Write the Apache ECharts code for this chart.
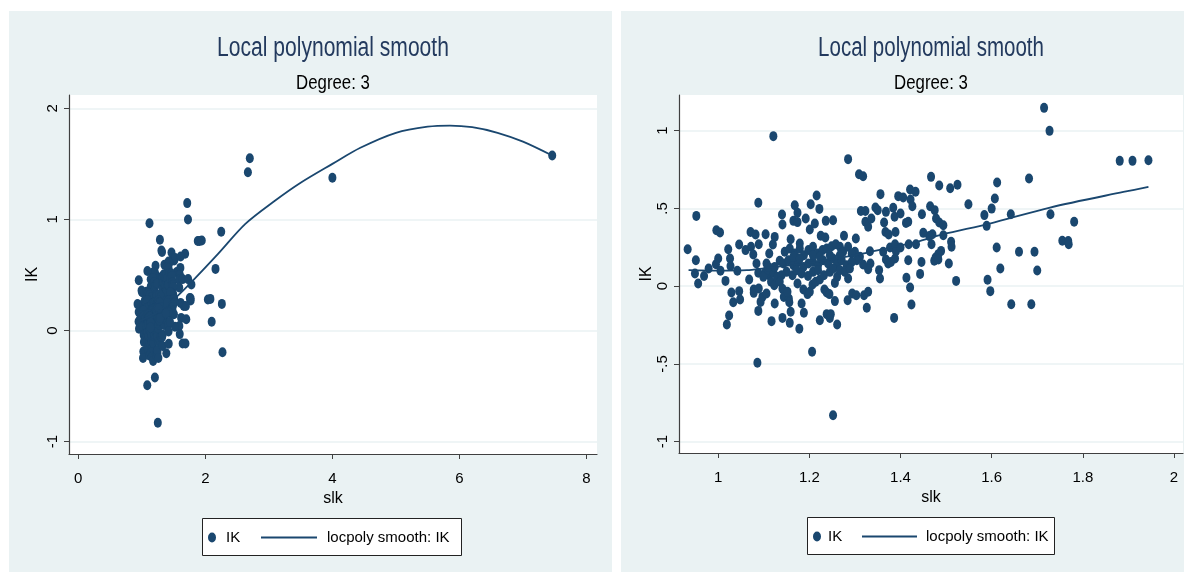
<!DOCTYPE html>
<html>
<head>
<meta charset="utf-8">
<script src="https://cdn.jsdelivr.net/npm/echarts@6/dist/echarts.min.js"></script>
<style>
html,body{margin:0;padding:0;background:#fff;}
#c{width:1184px;height:575px;}
</style>
</head>
<body>
<div id="c"></div>
<script>
// ---- Data (slk, IK) ----
const slk = [
1.121,1.285,1.309,1.318,1.356,1.395,1.216,1.203,1.222,1.168,1.088,0.952,1.140,1.141,1.174,1.165,1.174,1.192,1.201,1.212,
1.236,1.252,1.313,1.323,1.323,1.329,1.336,1.345,1.350,1.368,1.364,1.367,1.374,1.384,1.387,1.389,0.996,1.004,1.071,1.082,
1.104,1.124,1.120,1.159,1.179,1.225,1.235,1.276,1.302,0.933,1.022,1.046,1.060,1.072,1.089,1.077,1.112,0.951,1.000,1.026,
0.979,0.995,1.005,1.027,1.042,0.949,0.969,0.956,1.016,1.068,1.084,1.088,1.135,1.029,1.046,1.048,1.033,1.024,1.019,1.078,
1.078,1.089,1.097,1.093,1.088,1.117,1.124,1.106,1.111,1.104,1.116,1.121,1.123,1.141,1.144,1.155,1.152,1.156,1.159,1.141,
1.157,1.178,1.188,1.183,1.174,1.187,1.196,1.201,1.197,1.207,1.214,1.223,1.223,1.233,1.238,1.244,1.238,1.245,1.247,1.256,
1.261,1.206,1.252,1.086,1.284,1.294,1.303,1.320,1.329,1.326,1.386,1.256,1.261,1.285,1.355,1.353,1.334,1.329,1.318,1.311,
1.304,1.300,1.333,1.362,1.368,1.373,1.377,1.388,1.388,1.390,
1.146,1.157,1.168,1.179,1.188,1.198,1.208,1.219,1.229,1.238,1.249,1.258,1.267,1.274,1.285,1.293,
1.143,1.154,1.165,1.176,1.187,1.198,1.208,1.219,1.230,1.241,1.252,1.261,1.271,1.282,1.293,
1.150,1.163,1.172,1.183,1.208,1.219,1.232,1.245,1.252,1.267,1.278,1.289,
1.165,1.179,1.208,1.223,1.245,1.267,1.106,1.110,1.099,1.124,1.129,1.139,1.135,
1.715,1.727,1.881,1.909,1.944,1.467,1.485,1.509,1.525,1.549,1.682,1.612,1.607,1.600,1.584,1.589,1.642,1.729,1.781,1.755,
1.769,1.768,1.611,1.660,1.694,1.619,1.700,1.591,1.597,1.643,1.687,1.522,
1.421,1.433,1.406,1.422,1.426,1.400,1.412,1.417,1.447,1.465,1.475,1.478,1.485,1.494,1.494,1.470,1.463,1.450,1.468,1.434,
1.418,1.400,1.511,1.512,1.506,1.489,1.483,1.477,1.474,1.483,1.446,1.417,1.379,1.413,1.421,1.424,1.443,
2.70,2.67,4.00,7.46,2.25,2.16,2.04,2.08,2.26,2.10,2.27
];
const ik = [
0.965,0.817,0.72,0.707,0.592,0.579,0.583,0.527,0.497,0.521,0.536,0.452,0.461,0.397,0.472,0.42,0.412,0.435,0.364,0.403,
0.42,0.424,0.484,0.484,0.414,0.382,0.435,0.506,0.489,0.478,0.409,0.349,0.332,0.504,0.446,0.349,0.36,0.345,0.349,0.332,
0.334,0.317,0.268,0.302,0.274,0.324,0.313,0.324,0.307,0.238,0.238,0.268,0.232,0.253,0.27,0.204,0.21,0.167,0.178,0.178,
0.114,0.141,0.099,0.129,0.099,0.081,0.066,0.017,0.034,0.043,0.146,0.086,0.163,-0.041,-0.032,-0.086,-0.103,-0.189,-0.247,-0.021,
-0.043,-0.015,-0.069,-0.101,-0.159,-0.225,-0.111,-0.047,0.071,0.092,0.028,0.086,0.006,-0.017,-0.069,-0.079,-0.036,-0.103,-0.165,-0.204,
-0.236,-0.274,-0.171,-0.111,0.017,-0.021,-0.051,-0.036,0.066,0.011,0.028,0.043,-0.219,-0.021,-0.041,-0.051,-0.18,-0.204,-0.18,-0.096,
-0.247,-0.422,-0.83,-0.493,-0.09,-0.047,-0.058,-0.058,-0.036,-0.139,-0.204,0.021,0.06,0.049,0.049,0.103,0.146,0.109,0.139,0.189,
0.167,0.221,0.225,0.221,0.171,0.146,0.249,0.27,0.178,0.225,
0.221,0.242,0.21,0.242,0.199,0.232,0.253,0.21,0.232,0.242,0.257,0.27,0.253,0.221,0.253,0.21,
0.146,0.167,0.135,0.156,0.124,0.146,0.156,0.135,0.167,0.146,0.178,0.146,0.167,0.135,0.156,
0.092,0.071,0.103,0.081,0.092,0.103,0.071,0.092,0.114,0.103,0.092,0.114,
0.189,0.178,0.199,0.189,0.199,0.199,0.146,0.124,0.06,0.124,0.06,0.071,0.028,
1.147,0.999,0.806,0.806,0.81,0.703,0.647,0.63,0.652,0.527,0.692,0.667,0.564,0.499,0.457,0.388,0.463,0.463,0.414,0.292,
0.27,0.29,0.249,0.221,0.221,0.114,0.101,0.041,-0.032,-0.116,-0.116,0.034,
0.622,0.607,0.570,0.557,0.514,0.467,0.407,0.414,0.463,0.514,0.489,0.435,0.409,0.392,0.328,0.334,0.322,0.343,0.27,0.27,
0.27,0.249,0.285,0.253,0.146,0.227,0.206,0.184,0.163,0.171,0.156,0.167,0.156,0.054,-0.009,-0.118,0.079,
1.55,1.425,1.375,1.575,0.89,0.555,0.28,0.285,0.24,0.08,-0.195
];
// Local polynomial smooth, full sample (left panel)
const smoothAllX = [0.93,1.2,1.5,1.77,2.2,2.63,3.1,3.5,4.0,4.44,5.0,5.5,5.85,6.2,6.6,7.0,7.46];
const smoothAllY = [0.08,0.15,0.28,0.43,0.69,0.96,1.17,1.33,1.50,1.645,1.78,1.835,1.845,1.83,1.78,1.70,1.575];
// Local polynomial smooth, slk < 2 (right panel)
const smoothSubX = [0.935,1.0,1.063,1.1,1.2,1.3,1.38,1.435,1.494,1.596,1.728,1.889,1.944];
const smoothSubY = [0.103,0.10,0.103,0.115,0.15,0.20,0.25,0.285,0.334,0.403,0.506,0.606,0.638];
// Tick values / labels
const leftXTicks = [0,2,4,6,8];
const leftYTicks = [-1,0,1,2];
const rightXTicks = [1,1.2,1.4,1.6,1.8,2];
const rightYTicks = [-1,-0.5,0,0.5,1];
const rightYLabels = ['-1','-.5','0','.5','1'];
const titleText = 'Local polynomial smooth';
const subtitleText = 'Degree: 3';
const xName = 'slk';
const yName = 'IK';
const pointName = 'IK';
const lineName = 'locpoly smooth: IK';

// ---- Build ----
const NAVY = '#1a476f';
const BG = '#eaf2f3';
const FONT = '"Liberation Sans",Arial,sans-serif';
const ELLIPSE = 'path://M40,0A40,50,0,1,1,40,100A40,50,0,1,1,40,0Z';
const BAR = 'path://M0,0H280V10H0Z';

const allPts = slk.map((x,i)=>[x, ik[i]]);
const subPts = allPts.filter(p=>p[0] < 2);
const lineAll = smoothAllX.map((x,i)=>[x, smoothAllY[i]]);
const lineSub = smoothSubX.map((x,i)=>[x, smoothSubY[i]]);

function xAxisCfg(idx, min, max, ticks, fmt){
  return {
    type:'value', gridIndex: idx, min, max,
    name: xName, nameLocation:'middle', nameGap: 28,
    nameTextStyle:{fontFamily:FONT, fontSize:16, color:'#000'},
    axisLine:{show:true, onZero:false, lineStyle:{color:'#404040', width:1.2}},
    axisTick:{show:true, length:5, customValues: ticks, lineStyle:{color:'#404040', width:1}},
    axisLabel:{show:true, customValues: ticks, margin: 17, fontFamily:FONT, fontSize:15, color:'#000', formatter: fmt},
    splitLine:{show:false}
  };
}
function yAxisCfg(idx, min, max, ticks, labels, nameGap){
  return {
    type:'value', gridIndex: idx, min, max,
    name: yName, nameLocation:'middle', nameGap: nameGap, nameRotate: 90,
    nameTextStyle:{fontFamily:FONT, fontSize:16, color:'#000'},
    axisLine:{show:true, onZero:false, lineStyle:{color:'#404040', width:1.2}},
    axisTick:{show:true, length:5, customValues: ticks, lineStyle:{color:'#404040', width:1}},
    axisLabel:{show:true, customValues: ticks, rotate: 90, margin: 9, fontFamily:FONT, fontSize:15, color:'#000',
      formatter: v => { const k = ticks.findIndex(t=>Math.abs(t-v)<1e-9); return k>=0 ? labels[k] : ''; }},
    splitLine:{show:true, lineStyle:{color:BG, width:1.5}}
  };
}
function headText(cx, cy, text, size, sx, color){
  return {type:'text', x:cx, y:cy, scaleX:sx, z:5,
    style:{text:text, fontFamily:FONT, fontSize:size, fill:color, align:'center', verticalAlign:'middle'}};
}

const option = {
  backgroundColor:'#fff',
  animation:false,
  graphic:[
    {type:'rect', z:-10, shape:{x:9,y:11,width:603,height:561}, style:{fill:BG}},
    {type:'rect', z:-10, shape:{x:621,y:11,width:563,height:561}, style:{fill:BG}},
    {type:'rect', z:0, shape:{x:202.5,y:518.5,width:259,height:37}, style:{fill:'#fff', stroke:'#222', lineWidth:1}},
    {type:'rect', z:0, shape:{x:807.5,y:517.5,width:247,height:37}, style:{fill:'#fff', stroke:'#222', lineWidth:1}},
    headText(333, 49, titleText, 27, 0.78, '#233a5e'),
    headText(333, 83, subtitleText, 21, 0.8, '#000'),
    headText(931, 49, titleText, 27, 0.76, '#233a5e'),
    headText(931, 83, subtitleText, 21, 0.8, '#000')
  ],
  legend:[
    {data:[{name:pointName, icon:ELLIPSE}], left:208, top:530, itemWidth:8, itemHeight:10, padding:0, selectedMode:false,
      textStyle:{fontFamily:FONT, fontSize:15, color:'#000', padding:[0,0,0,5]}},
    {data:[{name:lineName, icon:BAR}], left:261, top:530, itemWidth:56, itemHeight:2, padding:0, selectedMode:false,
      itemStyle:{color:NAVY},
      textStyle:{fontFamily:FONT, fontSize:15, color:'#000', padding:[0,0,0,5]}},
    {data:[{name:pointName, icon:ELLIPSE}], left:813, top:529, itemWidth:8, itemHeight:10, padding:0, selectedMode:false,
      textStyle:{fontFamily:FONT, fontSize:15, color:'#000', padding:[0,0,0,2]}},
    {data:[{name:lineName, icon:BAR}], left:862, top:529, itemWidth:55, itemHeight:2, padding:0, selectedMode:false,
      itemStyle:{color:NAVY},
      textStyle:{fontFamily:FONT, fontSize:15, color:'#000', padding:[0,0,0,4]}}
  ],
  grid:[
    {left:69, top:95, right:587, bottom:121, show:true, backgroundColor:'#fff', borderWidth:0},
    {left:679, top:95, right:1, bottom:122, show:true, backgroundColor:'#fff', borderWidth:0}
  ],
  xAxis:[
    xAxisCfg(0, -0.146, 8.165, leftXTicks, v=>String(v)),
    xAxisCfg(1, 0.914, 2.0198, rightXTicks, v=>String(+v.toFixed(1)))
  ],
  yAxis:[
    yAxisCfg(0, -1.111, 2.12, leftYTicks, leftYTicks.map(String), 28),
    yAxisCfg(1, -1.073, 1.2296, rightYTicks, rightYLabels, 23)
  ],
  series:[
    {name:pointName, type:'scatter', xAxisIndex:0, yAxisIndex:0, data: allPts, symbol:ELLIPSE, symbolSize:[8,10],
      itemStyle:{color:NAVY, opacity:1}},
    {name:lineName, type:'line', xAxisIndex:0, yAxisIndex:0, data: lineAll, smooth:0.3, symbol:'none',
      lineStyle:{color:NAVY, width:1.8}, itemStyle:{color:NAVY}},
    {name:pointName, type:'scatter', xAxisIndex:1, yAxisIndex:1, data: subPts, symbol:ELLIPSE, symbolSize:[8,10],
      itemStyle:{color:NAVY, opacity:1}},
    {name:lineName, type:'line', xAxisIndex:1, yAxisIndex:1, data: lineSub, smooth:0.3, symbol:'none',
      lineStyle:{color:NAVY, width:1.8}, itemStyle:{color:NAVY}}
  ]
};
const chart = echarts.init(document.getElementById('c'), null, {renderer:'canvas'});
chart.setOption(option);
</script>
</body>
</html>
